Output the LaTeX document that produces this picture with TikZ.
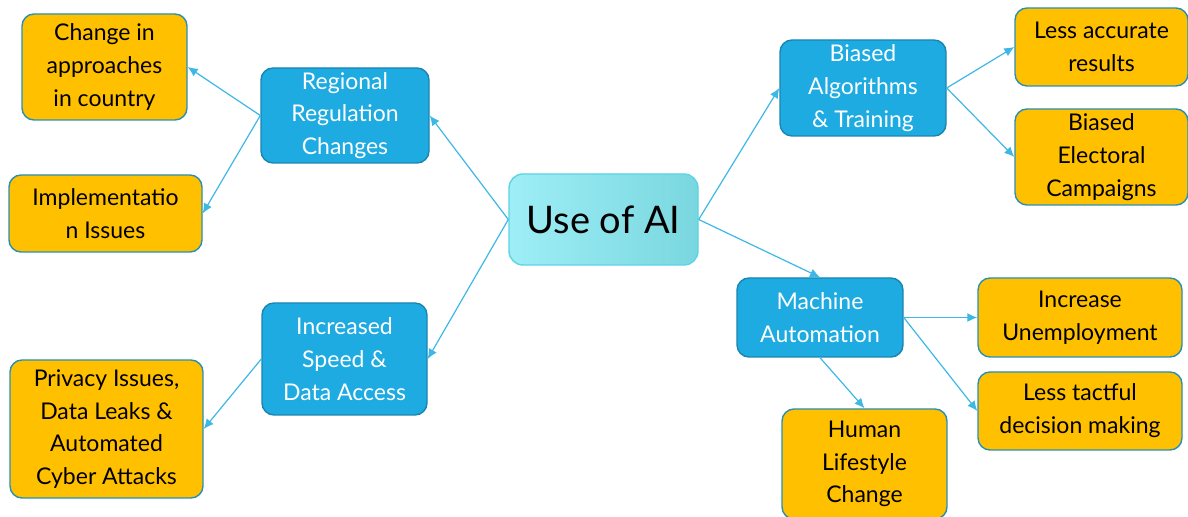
\documentclass[tikz,border=0pt]{standalone}
\usepackage{fontspec}
\setmainfont{Lato}
\usetikzlibrary{arrows.meta}

\definecolor{rootfillA}{HTML}{9EEEF6}
\definecolor{rootfillB}{HTML}{7AD7DF}
\definecolor{rootline}{HTML}{5CD3E6}
\definecolor{topicfill}{HTML}{1EABE2}
\definecolor{topicline}{HTML}{1A86B0}
\definecolor{leaffill}{HTML}{FFC000}
\definecolor{leafline}{HTML}{2A8FB5}
\definecolor{linkline}{HTML}{3DB8E6}

\tikzset{
  boxsize/.style 2 args={minimum width=#1*0.5pt, minimum height=#2*0.5pt},
  rootbox/.style={draw=rootline, left color=rootfillA, right color=rootfillB,
    rounded corners=7pt, line width=0.7pt, inner sep=0pt, align=center,
    font=\fontsize{19}{23}\selectfont},
  topicbox/.style={draw=topicline, fill=topicfill, text=white,
    rounded corners=6pt, line width=0.7pt, inner sep=0pt, align=center,
    font=\fontsize{11.5}{16.4}\selectfont},
  leafbox/.style={draw=leafline, fill=leaffill, text=black,
    rounded corners=6pt, line width=0.7pt, inner sep=0pt, align=center,
    font=\fontsize{11.5}{16.4}\selectfont},
  link/.style={draw=linkline, line width=0.6pt,
    -{Latex[length=5pt,width=4.5pt]}}
}

\begin{document}
\begin{tikzpicture}[x=0.5pt,y=-0.5pt]
\useasboundingbox (0,0) rectangle (1188,517);

% centre
\node(ai) at (603.5,219.5)[rootbox,boxsize={189}{91}]   {Use of AI};

% first ring
\node(regional) at (345,115.5)[topicbox,boxsize={168}{95}]  {Regional\\Regulation\\Changes};
\node(speed)    at (344.5,359)[topicbox,boxsize={165}{112}] {Increased\\Speed \&\\Data Access};
\node(biased)   at (863,88)   [topicbox,boxsize={166}{96}]  {Biased\\Algorithms\\\& Training};
\node(machine)  at (820,317.5)[topicbox,boxsize={166}{79}]  {Machine\\Automation};

% outcomes
\node(approach)  at (104.5,67)  [leafbox,boxsize={165}{106}] {Change in\\approaches\\in country};
\node(implement) at (105.5,213.5)[leafbox,boxsize={193}{77}] {Implementatio\\n Issues};
\node(privacy)   at (106.5,429) [leafbox,boxsize={193}{138}] {Privacy Issues,\\Data Leaks \&\\Automated\\Cyber Attacks};
\node(accuracy)  at (1101.5,47) [leafbox,boxsize={173}{78}]  {Less accurate\\results};
\node(electoral) at (1101.5,157)[leafbox,boxsize={173}{96}]  {Biased\\Electoral\\Campaigns};
\node(jobs)      at (1080,317.5)[leafbox,boxsize={204}{79}]  {Increase\\Unemployment};
\node(tact)      at (1080,411)  [leafbox,boxsize={204}{78}]  {Less tactful\\decision making};
\node(lifestyle) at (864.5,464) [leafbox,boxsize={165}{110}] {Human\\Lifestyle\\Change};

\path
  (ai.west)        edge[link] (regional.east)
  (ai.west)        edge[link] (speed.east)
  (ai.east)        edge[link] (biased.west)
  (ai.east)        edge[link] (machine.north)
  (regional.west)  edge[link] (approach.east)
  (regional.west)  edge[link] (implement.east)
  (speed.west)     edge[link] (privacy.east)
  (biased.east)    edge[link] (accuracy.west)
  (biased.east)    edge[link] (electoral.west)
  (machine.east)   edge[link] (jobs.west)
  (machine.east)   edge[link] (tact.west)
  (machine.south)  edge[link] (lifestyle.north);

\end{tikzpicture}
\end{document}
